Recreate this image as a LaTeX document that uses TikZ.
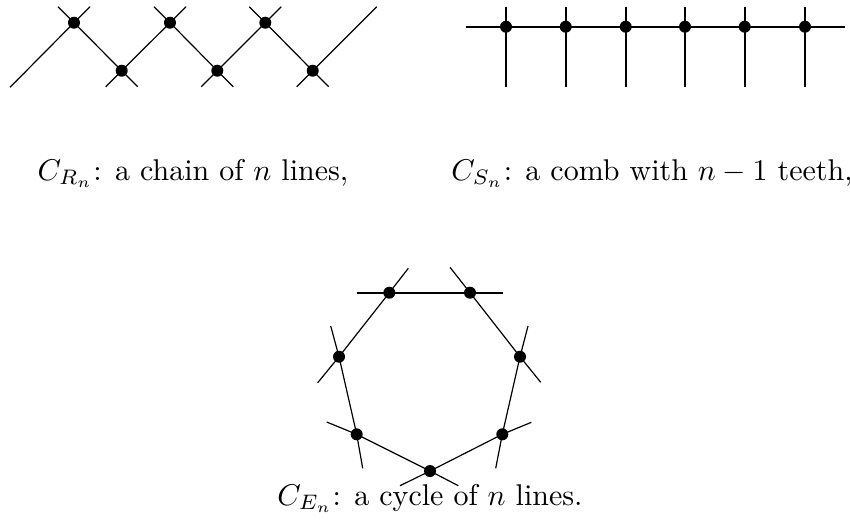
\documentclass[tikz,border=0pt]{standalone}
\begin{document}
\begin{tikzpicture}[x=0.3333pt,y=-0.3333pt,
  dot/.style={circle,fill=black,inner sep=0pt,minimum size=4pt},
  thinline/.style={line width=0.4pt},
  thickline/.style={line width=0.6pt},
  lab/.style={anchor=base,inner sep=0pt}]
\useasboundingbox (0,0) rectangle (850,520);
% ---------- chain ----------
\coordinate (t1) at (74,22.7);
\coordinate (t2) at (170,22.7);
\coordinate (t3) at (265.3,22.7);
\coordinate (b1) at (121.7,70.7);
\coordinate (b2) at (217.3,70.7);
\coordinate (b3) at (312.7,70.7);
\coordinate (c1s) at (10,87.3);   \coordinate (c1e) at (90,6.7);
\coordinate (c2s) at (58,6.7);    \coordinate (c2e) at (137.7,86.7);
\coordinate (c3s) at (105.7,86.7);\coordinate (c3e) at (186,6.7);
\coordinate (c4s) at (154,6.7);   \coordinate (c4e) at (233.3,86.7);
\coordinate (c5s) at (201.3,86.7);\coordinate (c5e) at (281.3,6.7);
\coordinate (c6s) at (249.3,6.7); \coordinate (c6e) at (328.7,86.7);
\coordinate (c7s) at (296.7,86.7);\coordinate (c7e) at (376.7,6.7);
\draw[thinline] (c1s) -- (t1) -- (c1e);
\draw[thinline] (c2s) -- (t1) -- (b1) -- (c2e);
\draw[thinline] (c3s) -- (b1) -- (t2) -- (c3e);
\draw[thinline] (c4s) -- (t2) -- (b2) -- (c4e);
\draw[thinline] (c5s) -- (b2) -- (t3) -- (c5e);
\draw[thinline] (c6s) -- (t3) -- (b3) -- (c6e);
\draw[thinline] (c7s) -- (b3) -- (c7e);
\foreach \p in {t1,t2,t3,b1,b2,b3}{\node[dot] (d\p) at (\p) {};}
% ---------- comb ----------
\coordinate (hs) at (466,26.7);
\coordinate (he) at (845,26.7);
\draw[thickline] (hs) -- (he);
\foreach \i/\xx in {1/506,2/565.7,3/625.7,4/685,5/744.7,6/805}{
  \coordinate (v\i s) at (\xx,6.7);
  \coordinate (v\i e) at (\xx,86.7);
  \draw[thickline] (v\i s) -- (v\i e);
  \node[dot] (m\i) at (\xx,26.7) {};
}
% ---------- cycle ----------
\coordinate (ptl) at (389.3,292.7);
\coordinate (ptr) at (470,292.7);
\coordinate (pr)  at (520,356.7);
\coordinate (pl)  at (339,356.7);
\coordinate (pll) at (356.7,434.3);
\coordinate (plr) at (502.3,434.3);
\coordinate (pb)  at (430,471);
\coordinate (e1s) at (357.3,292.7); \coordinate (e1e) at (502.7,292.7);
\coordinate (e2s) at (408.3,268.3); \coordinate (e2e) at (317.7,382.7);
\coordinate (e3s) at (450,267.3);   \coordinate (e3e) at (540.7,382.3);
\coordinate (e4s) at (330.7,326);   \coordinate (e4e) at (362.7,468.3);
\coordinate (e5s) at (528,326);     \coordinate (e5e) at (495.7,468.3);
\coordinate (e6s) at (326.7,422);   \coordinate (e6e) at (458.3,485.7);
\coordinate (e7s) at (531.3,422.3); \coordinate (e7e) at (400,485.7);
\draw[thickline] (e1s) -- (e1e);
\draw[thinline] (e2s) -- (ptl) -- (pl) -- (e2e);
\draw[thinline] (e3s) -- (ptr) -- (pr) -- (e3e);
\draw[thinline] (e4s) -- (pl) -- (pll) -- (e4e);
\draw[thinline] (e5s) -- (pr) -- (plr) -- (e5e);
\draw[thinline] (e6s) -- (pll) -- (pb) -- (e6e);
\draw[thinline] (e7s) -- (plr) -- (pb) -- (e7e);
\foreach \p in {ptl,ptr,pr,pl,pll,plr,pb}{\node[dot] (d\p) at (\p) {};}
% ---------- labels ----------
\node[lab] (l1) at (193,180) {$C_{R_n}$: a chain of $n$ lines,};
\node[lab] (l2) at (652,180) {$C_{S_n}$: a comb with $n-1$ teeth,};
\node[lab] (l3) at (430,505) {$C_{E_n}$: a cycle of $n$ lines.};
\end{tikzpicture}
\end{document}
